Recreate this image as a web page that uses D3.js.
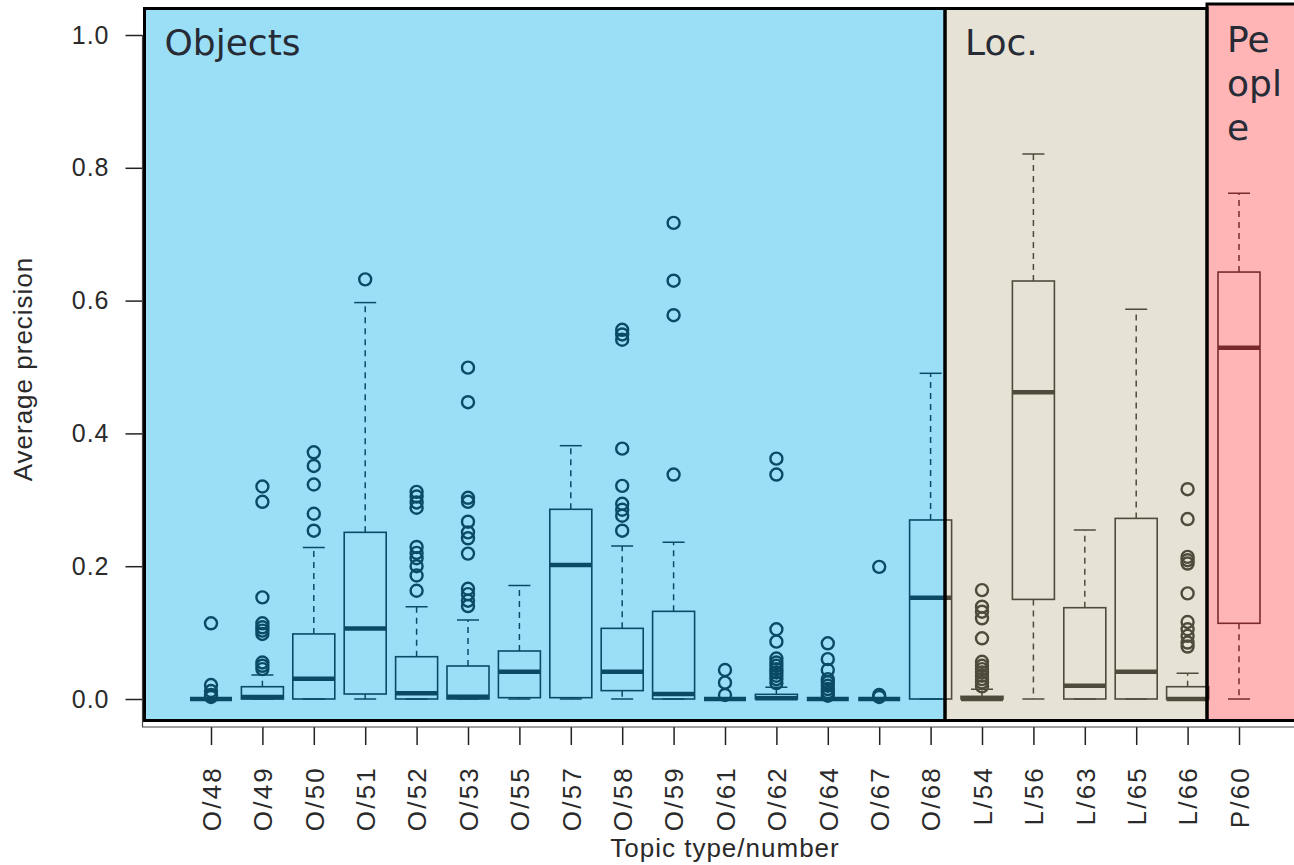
<!DOCTYPE html>
<html>
<head>
<meta charset="utf-8">
<script src="https://cdn.jsdelivr.net/npm/d3@7"></script>
<style>
  body { margin: 0; background: #fff; }
  .tick text { font-family: "Liberation Sans", Arial, sans-serif; fill: #2a2a2a; }
  .axis-title { font-family: "Liberation Sans", Arial, sans-serif; fill: #2a2a2a; font-size: 26px; }
  .panel-label { font-family: "DejaVu Sans", Verdana, sans-serif; fill: #262b36; font-size: 36px; }
</style>
</head>
<body>
<div id="chart"></div>
<script>
// topic categories, in plotting order
const categories = ["O/48", "O/49", "O/50", "O/51", "O/52", "O/53", "O/55", "O/57", "O/58", "O/59",
  "O/61", "O/62", "O/64", "O/67", "O/68", "L/54", "L/56", "L/63", "L/65", "L/66", "P/60"];

// box statistics
const q1 = [0, 0, 0, 0.0075, 0, 0, 0.002, 0.002, 0.0126, 0, 0, 0, 0, 0, 0, 0, 0.15, 0, 0, 0, 0.114];
const medians = [0, 0.003, 0.0306, 0.106, 0.0085, 0.0035, 0.041, 0.2018, 0.041, 0.0075, 0, 0.001, 0, 0, 0.1526,
  0, 0.462, 0.02, 0.041, 0, 0.529];
const q3 = [0, 0.0185, 0.098, 0.251, 0.0637, 0.0497, 0.0723, 0.2857, 0.1064, 0.132, 0, 0.007, 0, 0, 0.2696,
  0.004, 0.6295, 0.1375, 0.272, 0.0185, 0.643];
const whiskerLow = [0, 0, 0, 0, 0, 0, 0, 0, 0, 0, 0, 0, 0, 0, 0, 0, 0, 0, 0, 0, 0];
const whiskerHigh = [0, 0.036, 0.228, 0.597, 0.139, 0.119, 0.171, 0.3815, 0.2304, 0.236, 0, 0.0176, 0, 0, 0.4905,
  0.0146, 0.8208, 0.2545, 0.587, 0.0387, 0.7616];
const outliers = [
  [0.114, 0.021, 0.012, 0.006, 0.003],
  [0.32, 0.297, 0.153, 0.114, 0.108, 0.103, 0.098, 0.055, 0.05, 0.045],
  [0.3715, 0.351, 0.323, 0.279, 0.2535],
  [0.632],
  [0.312, 0.305, 0.296, 0.288, 0.229, 0.22, 0.212, 0.2, 0.186, 0.163],
  [0.499, 0.447, 0.303, 0.297, 0.267, 0.251, 0.242, 0.219, 0.166, 0.158, 0.148, 0.14],
  [],
  [],
  [0.556, 0.549, 0.541, 0.377, 0.321, 0.294, 0.285, 0.276, 0.2535],
  [0.717, 0.63, 0.578, 0.338],
  [0.0437, 0.0246, 0.006],
  [0.362, 0.338, 0.105, 0.0864, 0.061, 0.055, 0.05, 0.045, 0.04, 0.035, 0.03, 0.024],
  [0.0839, 0.06, 0.0437, 0.03, 0.025, 0.02, 0.015, 0.01, 0.005],
  [0.199, 0.006, 0.003],
  [],
  [0.164, 0.139, 0.1315, 0.1215, 0.0914, 0.056, 0.05, 0.045, 0.04, 0.035, 0.03, 0.025, 0.019],
  [],
  [],
  [],
  [0.316, 0.271, 0.214, 0.209, 0.204, 0.159, 0.116, 0.105, 0.095, 0.085, 0.079],
  []
];
const yTicks = [0, 0.2, 0.4, 0.6, 0.8, 1.0];

// topic type panels
const panelLabels = [["Objects"], ["Loc."], ["Pe", "opl", "e"]];
const panelFills = ["#9bdff7", "#e6e2d5", "#ffb5b5"];
const panelInk = ["#0b4a64", "#4f4b3c", "#7a2a2a"];

const width = 1294, height = 865;
const svg = d3.select("#chart").append("svg")
  .attr("width", width).attr("height", height);

const x = d3.scalePoint().domain(categories).range([211, 1239]);
const y = d3.scaleLinear().domain([0, 1]).range([699, 35]);
const boxW = 42, capW = 22;

// panel geometry (left, top, right, bottom)
const panelBox = [
  [144.5, 8.5, 945, 720.5],
  [945, 8.5, 1207, 720.5],
  [1207, 4, 1300, 720.5]
];

const rows = categories.map((c, i) => ({
  cat: c, q1: q1[i], med: medians[i], q3: q3[i],
  lo: whiskerLow[i], hi: whiskerHigh[i], out: outliers[i]
}));

const defs = svg.append("defs");
panelBox.forEach((p, k) => {
  defs.append("clipPath").attr("id", "clip" + k)
    .append("rect")
    .attr("x", p[0]).attr("y", p[1])
    .attr("width", p[2] - p[0]).attr("height", p[3] - p[1]);
});

// panel fills
svg.selectAll("rect.panel-fill")
  .data(panelBox)
  .join("rect")
  .attr("class", "panel-fill")
  .attr("x", d => d[0]).attr("y", d => d[1])
  .attr("width", d => d[2] - d[0]).attr("height", d => d[3] - d[1])
  .attr("fill", (d, i) => panelFills[i]);

// boxes, drawn once per panel and clipped, so a box crossing a border changes ink
panelBox.forEach((p, k) => {
  const ink = panelInk[k];
  const g = svg.append("g").attr("clip-path", `url(#clip${k})`);
  const box = g.selectAll("g.box").data(rows).join("g")
    .attr("class", "box")
    .attr("transform", d => `translate(${x(d.cat)},0)`);

  // dashed whiskers
  box.append("line")
    .attr("y1", d => y(d.q3)).attr("y2", d => y(d.hi))
    .attr("stroke", ink).attr("stroke-width", 1.5).attr("stroke-dasharray", "6,5");
  box.append("line")
    .attr("y1", d => y(d.q1)).attr("y2", d => y(d.lo))
    .attr("stroke", ink).attr("stroke-width", 1.5).attr("stroke-dasharray", "6,5");
  // caps
  box.append("line")
    .attr("x1", -capW / 2).attr("x2", capW / 2)
    .attr("y1", d => y(d.hi)).attr("y2", d => y(d.hi))
    .attr("stroke", ink).attr("stroke-width", 1.5);
  box.append("line")
    .attr("x1", -capW / 2).attr("x2", capW / 2)
    .attr("y1", d => y(d.lo)).attr("y2", d => y(d.lo))
    .attr("stroke", ink).attr("stroke-width", 1.5);
  // box
  box.append("rect")
    .attr("x", -boxW / 2).attr("width", boxW)
    .attr("y", d => y(d.q3)).attr("height", d => y(d.q1) - y(d.q3))
    .attr("fill", "none").attr("stroke", ink).attr("stroke-width", 1.6);
  // median
  box.append("line")
    .attr("x1", -boxW / 2).attr("x2", boxW / 2)
    .attr("y1", d => y(d.med)).attr("y2", d => y(d.med))
    .attr("stroke", ink).attr("stroke-width", 4.5);
  // outliers
  box.selectAll("circle")
    .data(d => d.out)
    .join("circle")
    .attr("cy", v => y(v)).attr("r", 6)
    .attr("fill", "none").attr("stroke", ink).attr("stroke-width", 2.4);
});

// panel borders
svg.selectAll("rect.panel-border")
  .data(panelBox)
  .join("rect")
  .attr("class", "panel-border")
  .attr("x", d => d[0]).attr("y", d => d[1])
  .attr("width", d => d[2] - d[0]).attr("height", d => d[3] - d[1])
  .attr("fill", "none").attr("stroke", "#000").attr("stroke-width", 3);

// panel labels
panelLabels.forEach((lines, k) => {
  const t = svg.append("text").attr("class", "panel-label")
    .attr("x", panelBox[k][0] + 20).attr("y", 55);
  lines.forEach((s, j) => {
    t.append("tspan").attr("x", panelBox[k][0] + 20)
      .attr("y", (k === 2 ? 52 : 55) + j * 44).text(s);
  });
});

// axes
const yAxis = d3.axisLeft(y).tickValues(yTicks).tickFormat(d3.format(".1f"))
  .tickSize(17).tickPadding(16);
const gy = svg.append("g").attr("transform", "translate(142.5,0)").call(yAxis);
gy.select(".domain").remove();
gy.selectAll(".tick line").attr("stroke", "#222").attr("stroke-width", 1.5);
gy.selectAll(".tick text").style("font-size", "25px").style("letter-spacing", "1px");

svg.append("line")
  .attr("x1", 142.5).attr("x2", 142.5).attr("y1", 35).attr("y2", 727)
  .attr("stroke", "#444").attr("stroke-width", 1.2);

const xAxis = d3.axisBottom(x).tickSize(18).tickSizeOuter(0);
const gx = svg.append("g").attr("transform", "translate(0,727)").call(xAxis);
gx.select(".domain").remove();
svg.append("line")
  .attr("x1", 142).attr("x2", width).attr("y1", 727).attr("y2", 727)
  .attr("stroke", "#444").attr("stroke-width", 1.2);
gx.selectAll(".tick line").attr("stroke", "#222").attr("stroke-width", 1.5);
gx.selectAll(".tick text")
  .attr("transform", "rotate(-90)")
  .attr("text-anchor", "end")
  .attr("x", -39).attr("y", 0).attr("dy", "0.36em")
  .style("font-size", "26px").style("letter-spacing", "2.2px");

svg.append("text").attr("class", "axis-title")
  .attr("transform", "translate(32,369) rotate(-90)")
  .attr("text-anchor", "middle")
  .style("letter-spacing", "1px")
  .text("Average precision");

svg.append("text").attr("class", "axis-title")
  .attr("x", 725).attr("y", 857)
  .attr("text-anchor", "middle")
  .style("letter-spacing", "1px")
  .text("Topic type/number");
</script>
</body>
</html>
